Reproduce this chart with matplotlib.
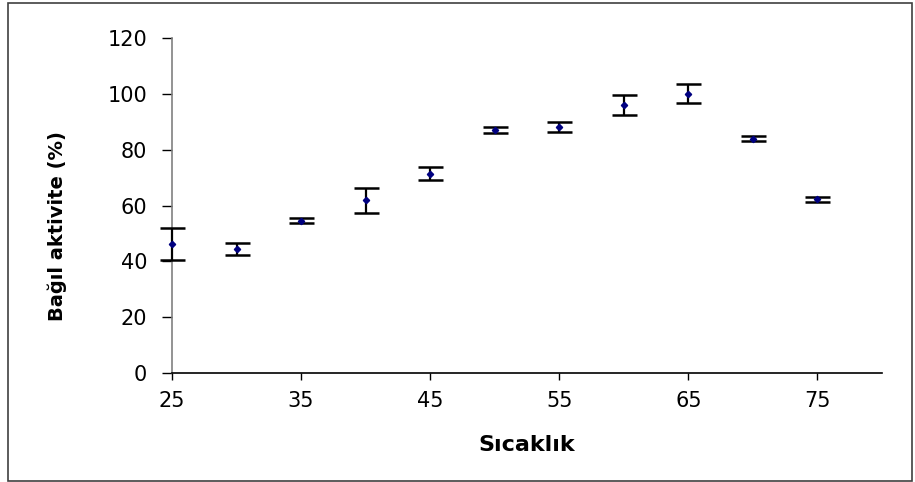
import matplotlib
matplotlib.use("Agg")
import matplotlib.pyplot as plt
from matplotlib.patches import Rectangle

plt.rcParams['font.family'] = ['DejaVu Sans']

# Temperature (°C) and relative activity (%) with error margins
sicaklik = [25, 30, 35, 40, 45, 50, 55, 60, 65, 70, 75]
aktivite = [46.3, 44.5, 54.6, 61.8, 71.4, 87.1, 88.2, 96.0, 100.0, 84.0, 62.2]
hata = [5.7, 2.1, 1.0, 4.4, 2.4, 1.1, 1.8, 3.6, 3.4, 0.8, 0.9]

x_ticks = [25, 35, 45, 55, 65, 75]
y_ticks = [0, 20, 40, 60, 80, 100, 120]

W, H = 915, 482
fig = plt.figure(figsize=(W / 100, H / 100), dpi=100)
ax = fig.add_axes([172 / W, 1 - 373 / H, (882 - 172) / W, (373 - 38) / H])

markers, caps, bars = ax.errorbar(sicaklik, aktivite, yerr=hata, fmt='D',
                                  color='#000080', markersize=3.2,
                                  ecolor='black', elinewidth=1.6, capsize=9,
                                  capthick=1.8, zorder=3)
# Let the first point's whisker caps extend past the y axis
markers.set_clip_on(False)
for artist in list(caps) + list(bars):
    artist.set_clip_on(False)

ax.set_xlim(25, 80)
ax.set_ylim(0, 120)
ax.set_xticks(x_ticks)
ax.set_yticks(y_ticks)

for s in ('top', 'right'):
    ax.spines[s].set_visible(False)
ax.spines['left'].set_color('#808080')
ax.spines['left'].set_linewidth(1.2)
ax.spines['bottom'].set_color('black')
ax.spines['bottom'].set_linewidth(1.2)

ax.tick_params(axis='y', direction='out', length=7, width=1, colors='black',
               labelsize=15, pad=11)
ax.tick_params(axis='x', direction='out', length=5, width=1, colors='black',
               labelsize=15, pad=8)

ax.set_xlabel('Sıcaklık', fontsize=16, fontweight='bold', va='center')
ax.xaxis.set_label_coords(0.5, (373 - 445) / 335)
ax.set_ylabel('Bağıl aktivite (%)', fontsize=14, fontweight='bold',
              va='center')
ax.yaxis.set_label_coords((57 - 172) / 710, (373 - 226) / 335)

# Outer frame around the whole chart
fig.patches.append(Rectangle((8 / W, 1 / H), (912 - 8) / W, (479 - 1) / H,
                             transform=fig.transFigure, fill=False,
                             edgecolor='#404040', linewidth=1.2))

fig.savefig('out.png', dpi=100)
